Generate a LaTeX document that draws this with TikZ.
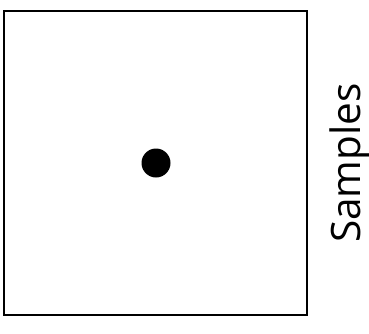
\documentclass[tikz,border=0pt]{standalone}
\usepackage{fontspec}
\setmainfont{Open Sans}
\begin{document}
\begin{tikzpicture}[x=1pt,y=-1pt,
  frame/.style={draw=black,line width=2pt},
  sample/.style={circle,fill=black,inner sep=0pt,minimum size=29pt},
  lbl/.style={font=\fontsize{40.5}{44}\selectfont,rotate=90,anchor=base,inner sep=0pt}]
\useasboundingbox (0,0) rectangle (369,333);
\node[frame,minimum width=303pt,minimum height=304pt,inner sep=0pt] (box) at (155.5,163) {};
\node[sample] (dot) at (156,163) {};
\node[lbl] (label) at (360,163) {Samples};
\end{tikzpicture}
\end{document}
